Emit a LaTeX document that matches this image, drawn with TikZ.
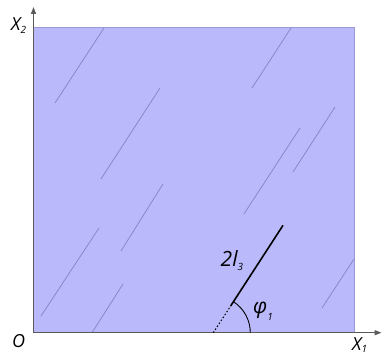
\documentclass[tikz,border=0pt]{standalone}
\usepackage{fontspec}
\setmainfont{Open Sans}
\usetikzlibrary{arrows.meta,calc}
\definecolor{plate}{HTML}{B9B9FB}
\definecolor{plateedge}{HTML}{9A9AD8}
\definecolor{crack}{HTML}{8585C0}
\definecolor{axisgray}{HTML}{5A5A5A}
\newcommand{\subx}[2]{\raisebox{#1}{\fontsize{10}{10}\selectfont #2}}
\tikzset{
  axisline/.style={draw=axisgray, line width=1.3pt, -{Triangle[length=7pt,width=5pt]}},
  crackline/.style={draw=crack, line width=0.7pt},
  mainline/.style={draw=black, line width=1.6pt},
  lbl/.style={inner sep=0pt, anchor=base west, font=\fontsize{18}{20}\selectfont\itshape},
  biglbl/.style={lbl, font=\fontsize{21}{23}\selectfont\itshape},
}
\begin{document}
\begin{tikzpicture}[x=1pt,y=1pt]
\useasboundingbox (0,0) rectangle (382,355);
% plate
\fill[plate] (33.5,22.3) rectangle (354.5,328);
\draw[plateedge, line width=0.6pt] (33.5,328) -- (354.5,328) -- (354.5,22.3);
% cracks
\draw[crackline] (55,252) -- (104,327);
\draw[crackline] (101,176) -- (160,267);
\draw[crackline] (252,267) -- (291,327);
\draw[crackline] (293,183) -- (335,248);
\draw[crackline] (244,141) -- (300,227);
\draw[crackline] (41,39) -- (99,127);
\draw[crackline] (121,104) -- (163,171);
\draw[crackline] (92,22.3) -- (123,71);
\draw[crackline] (322,47) -- (354,96);
% axes
\coordinate (O) at (33.5,22.3);
\coordinate (xend) at (381.5,22.3);
\coordinate (yend) at (33.5,348);
\draw[axisline] (O) -- (xend);
\draw[axisline] (O) -- (yend);
% main crack
\coordinate (P) at (213.3,22.3);
\coordinate (Q1) at ($(P)+(57:32)$);
\coordinate (Q2) at ($(P)+(57:128)$);
\draw[black, line width=1pt, dash pattern=on 1.5pt off 2pt] (P) -- (Q1);
\draw[mainline] (Q1) -- (Q2);
\draw[black, line width=0.9pt] ($(P)+(0:37)$) arc[start angle=0, end angle=57, radius=37];
% labels
\node[lbl] (x2) at (11,324.5) {X\subx{-3pt}{2}};
\node[lbl] (o) at (12,7.5) {O};
\node[lbl] (x1) at (352,4.5) {X\subx{-2pt}{1}};
\node[biglbl] (phi) at (253,41) {φ\subx{-7pt}{1}};
\node[biglbl] (len) at (220.5,88.5) {2l\subx{-4pt}{3}};
\end{tikzpicture}
\end{document}
